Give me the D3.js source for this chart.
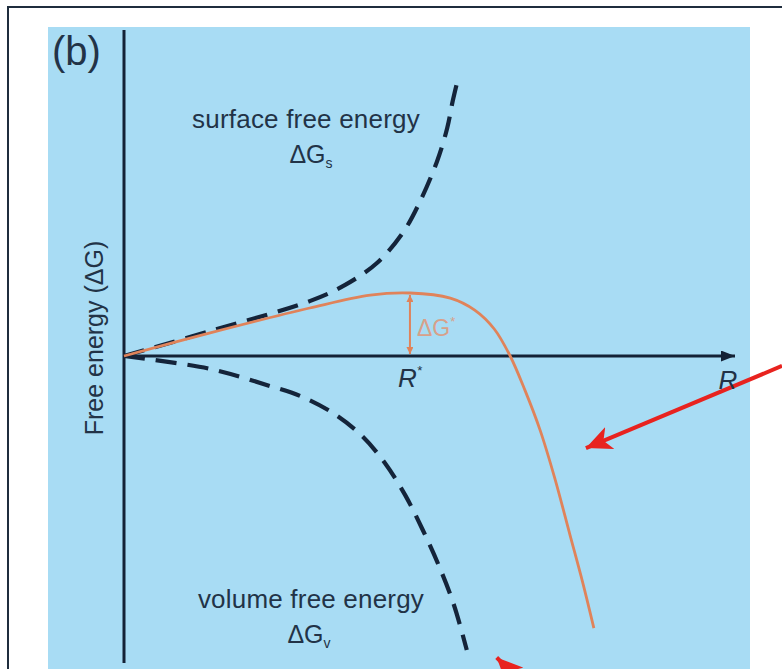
<!DOCTYPE html>
<html>
<head>
<meta charset="utf-8">
<script src="https://cdn.jsdelivr.net/npm/d3@7"></script>
<style>
  body { margin: 0; background: #fff; }
  text { font-family: "Liberation Sans", Arial, sans-serif; fill: #223347; }
</style>
</head>
<body>
<div id="chart"></div>
<script>
// curves: R (0..100) vs free energy (-100..100)
const surfaceR = [0, 14.1, 30.4, 36.2, 41.4, 45.7, 48.4, 51.2, 52.9, 53.8, 54.7];
const surfaceG = [0, 8.3, 18.3, 23.7, 31, 41.3, 51.3, 64.7, 76, 85, 92.7];

const volumeR = [0, 14.1, 23.9, 28.8, 34.2, 39, 42.7, 46, 48.9, 51.7, 54, 56.1];
const volumeG = [0, -4.3, -10, -13.3, -19, -26.7, -35.7, -46.3, -58, -70.7, -83, -98];

const totalR = [0, 14.1, 30.4, 40.3, 46.8, 53.4, 57.4, 60.6, 63.2, 65.6, 68.1, 70.5, 73, 75.1, 76.9];
const totalG = [0, 7.7, 16, 20.3, 21, 19.3, 15.3, 9, 0, -11.3, -24.7, -40.7, -59.7, -75.7, -90.7];

// critical radius and barrier
const rStar = 46.8;
const gStar = 21;

// red pointer arrows [tailR, tailG, headR, headG]
const pointers = [
  [107.7, -3.3, 75.6, -30.7],
  [68.5, -116, 61.0, -100.5]
];

const W = 782, H = 669;
const svg = d3.select('#chart').append('svg')
  .attr('width', W).attr('height', H);

const x = d3.scaleLinear().domain([0, 100]).range([124, 735]);
const y = d3.scaleLinear().domain([-100, 100]).range([656, 56]);

const defs = svg.append('defs');
function marker(id, color, w, h, notch) {
  defs.append('marker')
    .attr('id', id)
    .attr('viewBox', `0 ${-h / 2} ${w} ${h}`)
    .attr('refX', w).attr('refY', 0)
    .attr('markerUnits', 'userSpaceOnUse')
    .attr('markerWidth', w).attr('markerHeight', h)
    .attr('orient', 'auto-start-reverse')
    .append('path')
    .attr('d', `M0,${-h / 2}L${w},0L0,${h / 2}L${notch},0Z`)
    .attr('fill', color);
}
marker('axisHead', '#142236', 14, 11, 0);
marker('dgHead', '#e0835a', 7, 7, 0);
marker('redHead', '#e8231f', 26, 24, 7);

// frame + blue panel
svg.append('rect').attr('x', 8).attr('y', 7).attr('width', 800).attr('height', 700)
  .attr('fill', '#fff').attr('stroke', '#1f2d3d').attr('stroke-width', 2);
svg.append('rect').attr('x', 48).attr('y', 27).attr('width', 702).attr('height', 660)
  .attr('fill', '#a8dcf4');

// axes
svg.append('line')
  .attr('x1', x(0)).attr('x2', x(0)).attr('y1', 30).attr('y2', 663)
  .attr('stroke', '#142236').attr('stroke-width', 3);
svg.append('line')
  .attr('x1', x(0)).attr('x2', x(100)).attr('y1', y(0)).attr('y2', y(0))
  .attr('stroke', '#142236').attr('stroke-width', 3)
  .attr('marker-end', 'url(#axisHead)');

const line = d3.line()
  .x(d => x(d[0])).y(d => y(d[1]))
  .curve(d3.curveCatmullRom.alpha(0.5));

const zip = (a, b) => a.map((v, i) => [v, b[i]]);

svg.append('path')
  .attr('d', line(zip(surfaceR, surfaceG)))
  .attr('fill', 'none').attr('stroke', '#14243a')
  .attr('stroke-width', 4.2).attr('stroke-dasharray', '21,11');
svg.append('path')
  .attr('d', line(zip(volumeR, volumeG)))
  .attr('fill', 'none').attr('stroke', '#14243a')
  .attr('stroke-width', 4.2).attr('stroke-dasharray', '21,11');
svg.append('path')
  .attr('d', line(zip(totalR, totalG)))
  .attr('fill', 'none').attr('stroke', '#e0835a')
  .attr('stroke-width', 2.8);

// barrier arrow
svg.append('line')
  .attr('x1', x(rStar)).attr('x2', x(rStar))
  .attr('y1', y(gStar) + 2).attr('y2', y(0) - 2)
  .attr('stroke', '#e0835a').attr('stroke-width', 2)
  .attr('marker-start', 'url(#dgHead)').attr('marker-end', 'url(#dgHead)');

// red pointers
svg.selectAll('.ptr').data(pointers).enter().append('line')
  .attr('class', 'ptr')
  .attr('x1', d => x(d[0])).attr('y1', d => y(d[1]))
  .attr('x2', d => x(d[2])).attr('y2', d => y(d[3]))
  .attr('stroke', '#e8231f').attr('stroke-width', 4)
  .attr('marker-end', 'url(#redHead)');

// labels
svg.append('text').attr('x', 52).attr('y', 65)
  .attr('font-size', 40).text('(b)');

svg.append('text')
  .attr('transform', 'translate(103,338) rotate(-90)')
  .attr('text-anchor', 'middle').attr('font-size', 25)
  .text('Free energy (ΔG)');

function label(cx, by, t) {
  svg.append('text').attr('x', cx).attr('y', by)
    .attr('text-anchor', 'middle').attr('font-size', 26)
    .attr('letter-spacing', 0.2).text(t);
}
function subLabel(cx, by, sub) {
  const t = svg.append('text').attr('x', cx).attr('y', by)
    .attr('text-anchor', 'middle').attr('font-size', 25);
  t.append('tspan').text('ΔG');
  t.append('tspan').attr('font-size', 14).attr('dy', 5).text(sub);
}
label(306, 128, 'surface free energy');
subLabel(311, 163, 's');
label(311, 608, 'volume free energy');
subLabel(309, 643, 'v');

const dg = svg.append('text').attr('x', x(rStar) + 7).attr('y', y(gStar / 3) + 1)
  .attr('font-size', 23).style('fill', '#d8a08a');
dg.append('tspan').text('ΔG');
dg.append('tspan').attr('font-size', 13).attr('dy', -10).text('*');

const rs = svg.append('text').attr('x', x(rStar) - 12).attr('y', 387)
  .attr('font-size', 26).attr('font-style', 'italic');
rs.append('tspan').text('R');
rs.append('tspan').attr('font-size', 13).attr('dy', -12).text('*');

svg.append('text').attr('x', x(100) - 7).attr('y', 389)
  .attr('text-anchor', 'middle').attr('font-size', 26).attr('font-style', 'italic')
  .text('R');
</script>
</body>
</html>
